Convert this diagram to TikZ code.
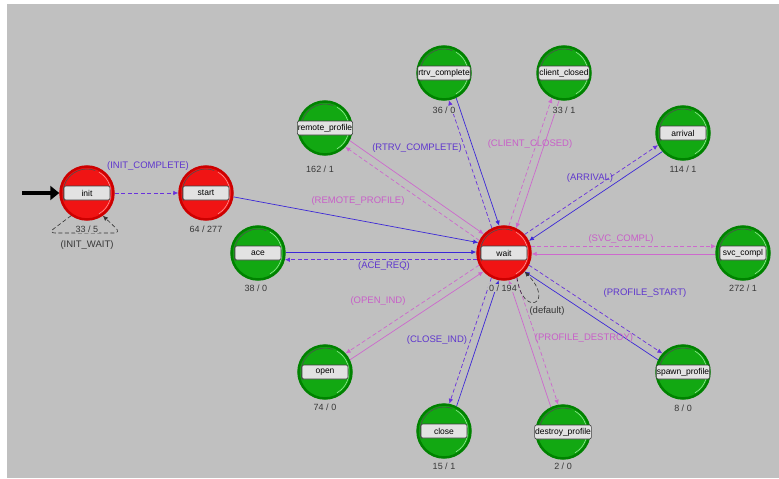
\documentclass[tikz,border=0pt]{standalone}
\usepackage{fontspec}
\setmainfont{Liberation Sans}
\usetikzlibrary{arrows.meta}
\definecolor{bggray}{RGB}{192,192,192}
\definecolor{redfill}{RGB}{240,20,20}
\definecolor{redline}{RGB}{205,0,0}
\definecolor{redhigh}{RGB}{255,150,150}
\definecolor{greenfill}{RGB}{18,168,18}
\definecolor{greenline}{RGB}{0,130,0}
\definecolor{greenhigh}{RGB}{150,235,150}
\definecolor{boxfill}{RGB}{226,226,226}
\definecolor{blueline}{RGB}{60,40,215}
\definecolor{bluedash}{RGB}{105,50,220}
\definecolor{bluetext}{RGB}{95,55,205}
\definecolor{pinkline}{RGB}{205,105,205}
\definecolor{pinktext}{RGB}{200,95,200}
\definecolor{graytext}{RGB}{55,55,55}

\begin{document}
\begin{tikzpicture}[x = 1pt, y = -1pt,
	redstate/.style={circle, minimum size=53pt, inner sep=0pt, fill=redfill, draw=redline, line width=2.5pt,
		path picture={\draw[redhigh, line width=0.6pt] ([shift={(-60:24pt)}]path picture bounding box.center) arc[start angle=-60, end angle=60, radius=24pt];
			\draw[black!70, line width=0.6pt] ([shift={(70:24pt)}]path picture bounding box.center) arc[start angle=70, end angle=200, radius=24pt];}},
	greenstate/.style={circle, minimum size=53pt, inner sep=0pt, fill=greenfill, draw=greenline, line width=2.5pt,
		path picture={\draw[greenhigh, line width=0.6pt] ([shift={(-60:24pt)}]path picture bounding box.center) arc[start angle=-60, end angle=60, radius=24pt];
			\draw[black!70, line width=0.6pt] ([shift={(70:24pt)}]path picture bounding box.center) arc[start angle=70, end angle=200, radius=24pt];}},
	namebox/.style={rectangle, rounded corners=2pt, fill=boxfill, draw=black!75, line width=0.6pt, minimum width=46pt, minimum height=14pt, inner sep=0.5pt, font=\fontsize{8.5}{9}\selectfont},
	count/.style={fill=bggray, inner sep=1pt, text=graytext, font=\fontsize{9}{10}\selectfont},
	trblue/.style={text=bluetext, inner sep=1pt, font=\fontsize{9.5}{10}\selectfont},
	trpink/.style={text=pinktext, inner sep=1pt, font=\fontsize{9.5}{10}\selectfont},
	trgray/.style={text=graytext, inner sep=1pt, font=\fontsize{9.5}{10}\selectfont},
	tip/.style={-{Latex[length=5pt,width=4.5pt]}},
	bluesolid/.style={tip, draw=blueline, line width=0.7pt},
	bluedashed/.style={tip, draw=bluedash, line width=0.7pt, dash pattern=on 4pt off 2.5pt},
	pinksolid/.style={tip, draw=pinkline, line width=0.7pt},
	pinkdashed/.style={tip, draw=pinkline, line width=0.7pt, dash pattern=on 4pt off 2.5pt},
	selfloop/.style={tip, draw=black!80, line width=0.6pt, dash pattern=on 4pt off 2.5pt}]

	\useasboundingbox (0,0) rectangle (779,479);
	\fill[bggray] (7,4) rectangle (779,478);

	% states
	\node[redstate] (init) at (87,193) {};
	\node[redstate] (start) at (206,193) {};
	\node[redstate] (wait) at (504,253) {};
	\node[greenstate] (ace) at (258,253) {};
	\node[greenstate] (remote) at (325,128) {};
	\node[greenstate] (rtrv) at (444,73) {};
	\node[greenstate] (client) at (564,73) {};
	\node[greenstate] (arrival) at (683,133) {};
	\node[greenstate] (svc) at (743,253) {};
	\node[greenstate] (spawn) at (683,372) {};
	\node[greenstate] (destroy) at (563,432) {};
	\node[greenstate] (close) at (444,431) {};
	\node[greenstate] (open) at (325,372) {};

	\node[namebox] (initbox) at (init) {init};
	\node[namebox] (startbox) at (start) {start};
	\node[namebox] (waitbox) at (wait) {wait};
	\node[namebox] (acebox) at (ace) {ace};
	\node[namebox] (remotebox) at (remote) {remote\_profile};
	\node[namebox] (rtrvbox) at (rtrv) {rtrv\_complete};
	\node[namebox] (clientbox) at (client) {client\_closed};
	\node[namebox] (arrivalbox) at (arrival) {arrival};
	\node[namebox] (svcbox) at (svc) {svc\_compl};
	\node[namebox] (spawnbox) at (spawn) {spawn\_profile};
	\node[namebox] (destroybox) at (destroy) {destroy\_profile};
	\node[namebox] (closebox) at (close) {close};
	\node[namebox] (openbox) at (open) {open};

	% entry and init
	\coordinate (entry) at (22,193);
	\draw[line width=4.5pt, -{Triangle[length=9pt,width=14pt]}] (entry) -- (init.180);
	\draw[bluedashed] (init.0) -- (start.180);
	\draw[selfloop, rounded corners=7pt] (init.235) -- (48,233) -- (121,233) -- (init.-55);
	\draw[bluesolid] (start.-8) -- (wait.158);

	% transitions out of wait and back
	\draw[bluesolid] (ace.2) -- (wait.178);
	\draw[bluedashed] (wait.194) -- (ace.-14);
	\draw[pinksolid] (remote.-27) -- (wait.137);
	\draw[pinkdashed] (wait.153) -- (remote.-43);
	\draw[bluesolid] (rtrv.-64) -- (wait.100);
	\draw[bluedashed] (wait.116) -- (rtrv.-80);
	\draw[pinksolid] (client.-100) -- (wait.64);
	\draw[pinkdashed] (wait.80) -- (client.-116);
	\draw[bluesolid] (arrival.222) -- (wait.26);
	\draw[bluedashed] (wait.42) -- (arrival.206);
	\draw[pinksolid] (svc.182) -- (wait.-2);
	\draw[pinkdashed] (wait.14) -- (svc.166);
	\draw[bluesolid] (spawn.154) -- (wait.-42);
	\draw[bluedashed] (wait.-26) -- (spawn.138);
	\draw[pinksolid] (destroy.116) -- (wait.-80);
	\draw[pinkdashed] (wait.-64) -- (destroy.100);
	\draw[bluesolid] (close.63) -- (wait.-101);
	\draw[bluedashed] (wait.-117) -- (close.79);
	\draw[pinksolid] (open.26) -- (wait.-138);
	\draw[pinkdashed] (wait.-154) -- (open.42);
	\draw[selfloop] (wait.-62) .. controls (522,318) and (556,304) .. (wait.-42);

	% counts
	\node[count] (initcnt) at (87,229) {33 / 5};
	\node[count] (startcnt) at (206,229) {64 / 277};
	\node[count] (waitcnt) at (503,288) {0 / 194};
	\node[count] (acecnt) at (256,288) {38 / 0};
	\node[count] (remotecnt) at (320,169) {162 / 1};
	\node[count] (rtrvcnt) at (444,110) {36 / 0};
	\node[count] (clientcnt) at (564,110) {33 / 1};
	\node[count] (arrivalcnt) at (683,169) {114 / 1};
	\node[count] (svccnt) at (743,288) {272 / 1};
	\node[count] (spawncnt) at (683,408) {8 / 0};
	\node[count] (destroycnt) at (563,466) {2 / 0};
	\node[count] (closecnt) at (444,466) {15 / 1};
	\node[count] (opencnt) at (325,407) {74 / 0};

	% transition labels
	\node[trblue] (initcomplete) at (148,166) {(INIT\_COMPLETE)};
	\node[trgray] (initwait) at (87,245) {(INIT\_WAIT)};
	\node[trpink] (remoteprofile) at (358,201) {(REMOTE\_PROFILE)};
	\node[trblue] (rtrvcomplete) at (417,148) {(RTRV\_COMPLETE)};
	\node[trpink] (clientclosed) at (530,144) {(CLIENT\_CLOSED)};
	\node[trblue] (arrivallbl) at (590,178) {(ARRIVAL)};
	\node[trpink] (svcompl) at (621,239) {(SVC\_COMPL)};
	\node[trblue] (acereq) at (384,266) {(ACE\_REQ)};
	\node[trblue] (profilestart) at (645,293) {(PROFILE\_START)};
	\node[trgray] (defaultlbl) at (547,311) {(default)};
	\node[trpink] (openind) at (378,301) {(OPEN\_IND)};
	\node[trblue] (closeind) at (437,340) {(CLOSE\_IND)};
	\node[trpink] (profiledestroy) at (584,338) {(PROFILE\_DESTROY)};
\end{tikzpicture}
\end{document}
